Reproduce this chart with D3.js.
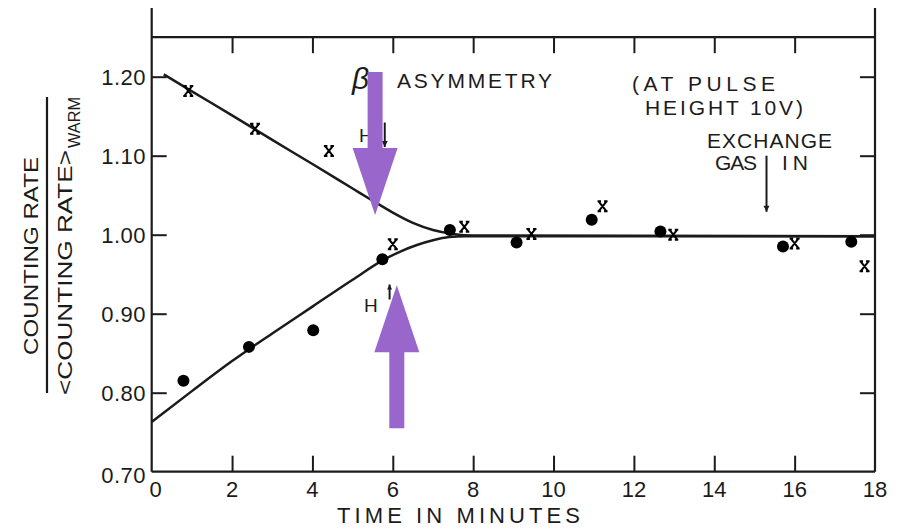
<!DOCTYPE html>
<html><head><meta charset="utf-8">
<script src="https://cdn.jsdelivr.net/npm/d3@7"></script>
<style>
html,body{margin:0;padding:0;background:#fff;}
svg{display:block;font-family:"Liberation Sans",Arial,sans-serif;}
</style></head>
<body><svg id="c" width="897" height="529"></svg>
<script>
// ---- data ----
const crossX = [0.91, 2.57, 4.41, 6.00, 7.78, 9.45, 11.22, 12.98, 16.00, 17.74];
const crossY = [1.182, 1.134, 1.106, 0.988, 1.010, 1.001, 1.036, 1.000, 0.989, 0.960];
const dotX = [0.79, 2.42, 4.02, 5.74, 7.42, 9.08, 10.95, 12.66, 15.71, 17.41];
const dotY = [0.815, 0.858, 0.879, 0.969, 1.006, 0.990, 1.019, 1.004, 0.985, 0.991];
const upperX = [0.3, 1, 2, 3, 4, 5, 5.5, 6.0, 6.5, 7.0, 7.5, 8.0, 18];
const upperY = [1.203, 1.1815, 1.151, 1.120, 1.0895, 1.0585, 1.043, 1.028, 1.015, 1.006, 1.001, 0.999, 0.998];
const lowerX = [0, 1, 2, 3, 4, 5, 5.8, 6.2, 6.6, 7.0, 7.4, 7.8, 18];
const lowerY = [0.763, 0.802, 0.840, 0.875, 0.909, 0.943, 0.969, 0.979, 0.987, 0.993, 0.997, 0.998, 0.998];
const xTickVals = [0, 2, 4, 6, 8, 10, 12, 14, 16, 18];
const xTickLabels = ["0", "2", "4", "6", "8", "10", "12", "14", "16", "18"];
const yTickVals = [0.70, 0.80, 0.90, 1.00, 1.10, 1.20];
const yTickLabels = ["0.70", "0.80", "0.90", "1.00", "1.10", "1.20"];
const xTitle = "TIME IN MINUTES";
const yTitleNum = "COUNTING RATE";
const yTitleDen = "<COUNTING RATE>";
const yTitleSub = "WARM";
// annotation arrows (data coords): [x, yStart, yEnd]
const gasArrow = [15.3, 1.100, 1.029];
const hDownArrow = [5.8, 1.142, 1.111];
const hUpArrow = [5.92, 0.918, 0.937];
// purple overlay arrows: [x, tailY, tipY]
const purpleArrows = [[5.56, 1.206, 1.025], [6.10, 0.755, 0.936]];

// ---- scales ----
const x = d3.scaleLinear().domain([0, 18]).range([151.7, 875]);
const y = d3.scaleLinear().domain([0.70, 1.25]).range([471.7, 37.2]);
const svg = d3.select("#c");
const ink = "#1b1b1b";

// frame
const fr = svg.append("g").attr("stroke", ink).attr("stroke-width", 2.2).attr("fill", "none");
fr.append("line").attr("x1", x(0)).attr("x2", x(0)).attr("y1", 8).attr("y2", y(0.70));
fr.append("line").attr("x1", x(18)).attr("x2", x(18)).attr("y1", 8).attr("y2", y(0.70));
fr.append("line").attr("x1", x(0)).attr("x2", x(18)).attr("y1", y(0.70)).attr("y2", y(0.70));
fr.append("line").attr("x1", x(0)).attr("x2", x(18)).attr("y1", y(1.25)).attr("y2", y(1.25));

// ticks via axes
const inner = xTickVals.filter(v => v > 0 && v < 18);
const yInner = yTickVals.filter(v => v > 0.7);
const axB = svg.append("g").attr("transform", `translate(0,${y(0.70)})`)
  .call(d3.axisTop(x).tickValues(inner).tickSize(16).tickFormat(""));
const axT = svg.append("g").attr("transform", `translate(0,${y(1.25)})`)
  .call(d3.axisBottom(x).tickValues(inner).tickSize(16).tickFormat(""));
const axL = svg.append("g").attr("transform", `translate(${x(0)},0)`)
  .call(d3.axisRight(y).tickValues(yInner).tickSize(15).tickFormat(""));
const axR = svg.append("g").attr("transform", `translate(${x(18)},0)`)
  .call(d3.axisLeft(y).tickValues(yInner).tickSize(15).tickFormat(""));
[axB, axT, axL, axR].forEach(a => {
  a.select(".domain").remove();
  a.selectAll("line").attr("stroke", ink).attr("stroke-width", 2);
});

// tick labels
svg.append("g").selectAll("text").data(xTickVals).join("text")
  .attr("x", (d, i) => x(d) + (i === 0 ? 4 : 0)).attr("y", 497)
  .attr("text-anchor", "middle").attr("font-size", 22).attr("fill", ink)
  .text((d, i) => xTickLabels[i]);
svg.append("g").selectAll("text").data(yTickVals).join("text")
  .attr("x", 146).attr("y", (d, i) => y(d) + (i === 0 ? 11 : 8))
  .attr("text-anchor", "end").attr("font-size", 22).attr("letter-spacing", 0.5).attr("fill", ink)
  .text((d, i) => yTickLabels[i]);

// axis titles
svg.append("text").attr("x", 337).attr("y", 523).attr("font-size", 22)
  .attr("textLength", 243).attr("lengthAdjust", "spacing").attr("fill", ink).text(xTitle);
svg.append("text").attr("transform", "translate(38,355) rotate(-90)").attr("font-size", 21)
  .attr("textLength", 198).attr("lengthAdjust", "spacingAndGlyphs").attr("fill", ink).text(yTitleNum);
svg.append("line").attr("x1", 47).attr("x2", 47).attr("y1", 97).attr("y2", 393)
  .attr("stroke", ink).attr("stroke-width", 2.2);
svg.append("text").attr("transform", "translate(72,395) rotate(-90)").attr("font-size", 21)
  .attr("textLength", 245).attr("lengthAdjust", "spacingAndGlyphs").attr("fill", ink).text(yTitleDen);
svg.append("text").attr("transform", "translate(80,148) rotate(-90)").attr("font-size", 17)
  .attr("textLength", 51).attr("lengthAdjust", "spacingAndGlyphs").attr("fill", ink).text(yTitleSub);

// curves
const line = d3.line().x(d => x(d[0])).y(d => y(d[1])).curve(d3.curveMonotoneX);
svg.append("path").datum(upperX.map((v, i) => [v, upperY[i]])).attr("d", line)
  .attr("fill", "none").attr("stroke", ink).attr("stroke-width", 2.5);
svg.append("path").datum(lowerX.map((v, i) => [v, lowerY[i]])).attr("d", line)
  .attr("fill", "none").attr("stroke", ink).attr("stroke-width", 2.5);

// dots
svg.append("g").selectAll("circle").data(dotX).join("circle")
  .attr("cx", d => x(d)).attr("cy", (d, i) => y(dotY[i])).attr("r", 6).attr("fill", "#000");
// crosses
const cross = "M-4,-5L4,5M4,-5L-4,5M-5,-5L-1.5,-5M1.5,-5L5,-5M-5,5L-1.5,5M1.5,5L5,5";
svg.append("g").selectAll("path").data(crossX).join("path")
  .attr("transform", (d, i) => `translate(${x(d)},${y(crossY[i])})`)
  .attr("d", cross).attr("fill", "none").attr("stroke", "#000").attr("stroke-width", 2);

// annotations
function addArrow(a, head) {
  const g = svg.append("g");
  g.append("line").attr("x1", x(a[0])).attr("x2", x(a[0])).attr("y1", y(a[1])).attr("y2", y(a[2]))
    .attr("stroke", ink).attr("stroke-width", 2);
  const tx = x(a[0]), ty = y(a[2]), dir = y(a[2]) > y(a[1]) ? 1 : -1;
  g.append("path").attr("d", `M${tx - head},${ty - dir * head * 2}L${tx + head},${ty - dir * head * 2}L${tx},${ty}Z`)
    .attr("fill", ink);
}
addArrow(gasArrow, 3);
addArrow(hDownArrow, 3);
addArrow(hUpArrow, 2.5);

const ann = svg.append("g").attr("fill", ink);
ann.append("text").attr("x", 352).attr("y", 89).attr("font-size", 30).attr("font-style", "italic").text("β");
ann.append("text").attr("x", 397).attr("y", 88).attr("font-size", 21).attr("textLength", 155).attr("lengthAdjust", "spacing").text("ASYMMETRY");
ann.append("text").attr("x", 632).attr("y", 91).attr("font-size", 21).attr("textLength", 143).attr("lengthAdjust", "spacing").text("(AT  PULSE");
ann.append("text").attr("x", 645).attr("y", 115).attr("font-size", 21).attr("textLength", 158).attr("lengthAdjust", "spacing").text("HEIGHT  10V)");
ann.append("text").attr("x", 707).attr("y", 148).attr("font-size", 21).attr("textLength", 125).attr("lengthAdjust", "spacing").text("EXCHANGE");
ann.append("text").attr("x", 715).attr("y", 170).attr("font-size", 21).attr("textLength", 42).attr("lengthAdjust", "spacing").text("GAS");
ann.append("text").attr("x", 782).attr("y", 170).attr("font-size", 21).attr("textLength", 26).attr("lengthAdjust", "spacing").text("IN");
ann.append("text").attr("x", 359).attr("y", 142).attr("font-size", 19).text("H");
ann.append("text").attr("x", 364).attr("y", 312).attr("font-size", 19).text("H");

// purple overlay arrows
const purple = "#9966cc";
purpleArrows.forEach(a => {
  const cx = x(a[0]), t0 = y(a[1]), t1 = y(a[2]);
  const dir = t1 > t0 ? 1 : -1;
  const headLen = 67, hw = 22.5, sw = 7.5;
  const hb = t1 - dir * headLen;
  svg.append("path").attr("fill", purple)
    .attr("d", `M${cx - sw},${t0}L${cx + sw},${t0}L${cx + sw},${hb}L${cx + hw},${hb}L${cx},${t1}L${cx - hw},${hb}L${cx - sw},${hb}Z`);
});
</script></body></html>
